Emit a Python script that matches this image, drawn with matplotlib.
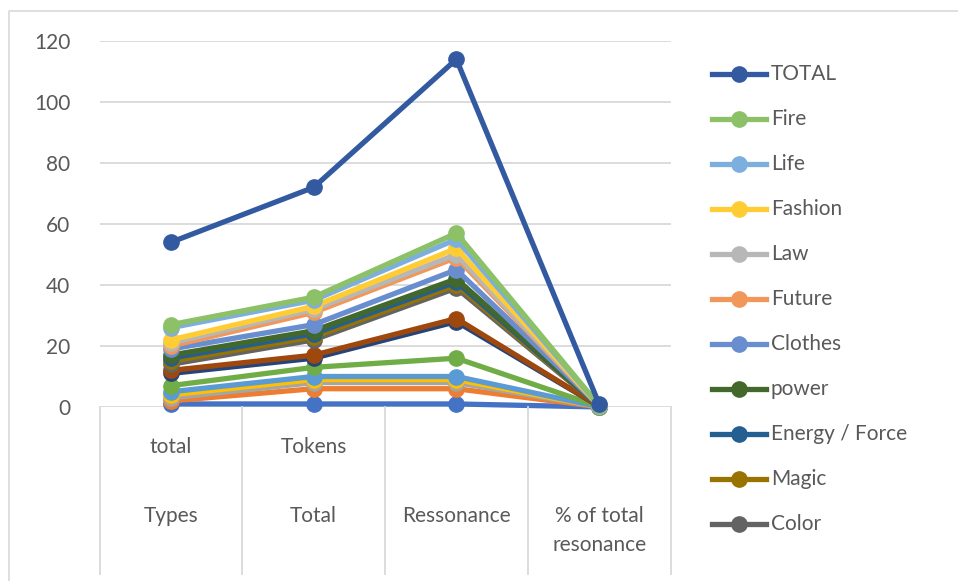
import matplotlib
matplotlib.use("Agg")
import matplotlib.pyplot as plt
from matplotlib.lines import Line2D

W, H = 958, 581
plt.rcParams['font.family'] = ['Lato', 'DejaVu Sans']

level1 = ["total", "Tokens", "", ""]
level2 = ["Types", "Total", "Ressonance", "% of total\nresonance"]

# series in plotting order (series 1 first), with values for the 4 categories
names = ["", "", "", "", "", "", "", "",
         "Color", "Magic", "Energy / Force", "power", "Clothes",
         "Future", "Law", "Fashion", "Life", "Fire", "TOTAL"]
colors = ["#4472C4", "#ED7D31", "#A5A5A5", "#FFC000", "#5B9BD5", "#70AD47",
          "#264478", "#9E480E", "#636363", "#997300", "#255E91", "#43682B",
          "#698ED0", "#F1975A", "#B7B7B7", "#FFCD33", "#7CAFDD", "#8CC168",
          "#335AA1"]
values = [
    [1, 1, 1, 0.01],
    [2, 6, 6, 0.05],
    [3, 8, 8, 0.07],
    [4, 9, 9, 0.08],
    [5, 10, 10, 0.09],
    [7, 13, 16, 0.14],
    [11, 16, 28, 0.25],
    [12, 17, 29, 0.25],
    [14, 22, 39, 0.34],
    [15, 23, 40, 0.35],
    [16, 24, 41, 0.36],
    [17, 25, 42, 0.37],
    [19, 27, 45, 0.39],
    [20, 31, 49, 0.43],
    [21, 32, 50, 0.44],
    [22, 33, 52, 0.46],
    [26, 35, 55, 0.48],
    [27, 36, 57, 0.5],
    [54, 72, 114, 1.0],
]
yticks = [0, 20, 40, 60, 80, 100, 120]

FS = 15
TXT = "#595959"
GRID = "#D9D9D9"
LW = 3.8
MS = 11

fig = plt.figure(figsize=(W / 100, H / 100), dpi=100)

def fx(x):
    return x / W

def fy(y):
    return 1 - y / H

# outer chart border (left and top edges visible)
fig.add_artist(Line2D([fx(9), fx(9), fx(958)], [fy(581), fy(11), fy(11)],
                      transform=fig.transFigure, color=GRID, lw=1.2))

left, right, top, bottom = 99.5, 670.5, 41, 407
ax = fig.add_axes([fx(left), fy(bottom), fx(right) - fx(left), fy(top) - fy(bottom)])
ax.set_xlim(-0.5, 3.5)
ax.set_ylim(0, 120)
for s in ax.spines.values():
    s.set_visible(False)
ax.set_yticks(yticks)
ax.set_yticklabels([str(t) for t in yticks], fontsize=FS, color=TXT)
ax.tick_params(axis='y', length=0, pad=21)
ax.set_xticks([])
for t in yticks:
    ax.axhline(t, color=GRID, lw=1.3, zorder=0)

xs = list(range(4))
for vals, c in zip(values, colors):
    ax.plot(xs, vals, color=c, lw=LW, marker='o', markersize=MS,
            solid_capstyle='round', solid_joinstyle='round',
            clip_on=False, zorder=3)

# category axis separators and labels
for i in range(5):
    x = left + i * (right - left) / 4
    fig.add_artist(Line2D([fx(x), fx(x)], [fy(407), fy(574)],
                          transform=fig.transFigure, color=GRID, lw=1.3))
for i in range(4):
    xc = left + (i + 0.5) * (right - left) / 4
    if level1[i]:
        fig.text(fx(xc), fy(447), level1[i], ha='center', va='center',
                 fontsize=FS, color=TXT)
    lines = level2[i].split("\n")
    for j, ln in enumerate(lines):
        fig.text(fx(xc), fy(516 + 29 * j), ln, ha='center', va='center',
                 fontsize=FS, color=TXT)

# legend (top 11 series, reverse order)
leg_y0, leg_dy = 74, 45
entries = [(n, c) for n, c in zip(names, colors) if n][::-1]
for k, (n, c) in enumerate(entries):
    y = leg_y0 + k * leg_dy
    fig.add_artist(Line2D([fx(712), fx(766)], [fy(y), fy(y)],
                          transform=fig.transFigure, color=c, lw=LW))
    fig.add_artist(Line2D([fx(739)], [fy(y)], transform=fig.transFigure,
                          color=c, marker='o', markersize=MS, lw=0))
    fig.text(fx(771), fy(y), n, ha='left', va='center', fontsize=FS,
             color=TXT)

fig.savefig("out.png", dpi=100)
